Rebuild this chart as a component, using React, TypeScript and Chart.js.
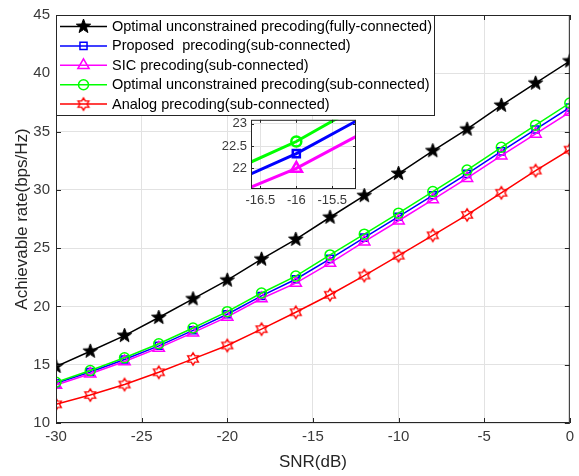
import React, { useEffect, useRef } from "react";
import { Chart, registerables } from "chart.js";
import { drawPoint } from "chart.js/helpers";

Chart.register(...registerables);

// ---------------- data ----------------
const snr = [-30, -28, -26, -24, -22, -20, -18, -16, -14, -12, -10, -8, -6, -4, -2, 0];
const fullyOptimal = [14.85, 16.15, 17.5, 19.05, 20.65, 22.25, 24.05, 25.75, 27.65, 29.5, 31.4, 33.35, 35.2, 37.25, 39.15, 41.05];
const proposed = [13.4, 14.38, 15.45, 16.62, 17.95, 19.33, 20.9, 22.33, 24.08, 25.9, 27.7, 29.53, 31.37, 33.3, 35.18, 37.07];
const sic = [13.25, 14.22, 15.28, 16.44, 17.75, 19.1, 20.68, 22.0, 23.72, 25.55, 27.35, 29.17, 31.0, 32.93, 34.8, 36.67];
const subOptimal = [13.5, 14.5, 15.6, 16.8, 18.15, 19.55, 21.15, 22.6, 24.42, 26.2, 28.0, 29.85, 31.7, 33.65, 35.55, 37.45];
const analog = [11.6, 12.4, 13.3, 14.35, 15.5, 16.65, 18.05, 19.5, 21.0, 22.65, 24.35, 26.1, 27.85, 29.75, 31.65, 33.45];

const xTicks = [-30, -25, -20, -15, -10, -5, 0];
const yTicks = [10, 15, 20, 25, 30, 35, 40, 45];
const insetXTicks = [-16.5, -16, -15.5];
const insetYTicks = [22, 22.5, 23];

const legendLabels = [
  "Optimal unconstrained precoding(fully-connected)",
  "Proposed  precoding(sub-connected)",
  "SIC precoding(sub-connected)",
  "Optimal unconstrained precoding(sub-connected)",
  "Analog precoding(sub-connected)",
];
const xTitle = "SNR(dB)";
const yTitle = "Achievable rate(bps/Hz)";

// ---------------- styles ----------------
const FONT = '"Liberation Sans", Arial, Helvetica, sans-serif';
const COLORS = ["#000000", "#0000ff", "#ff00ff", "#00ff00", "#ff0000"];
const AXIS = "#262626";
const GRID = "#e2e2e2";
const TICK = "#3a3a3a";

function makeStar(n: number, outer: number, inner: number, fill: string | null, stroke: string, lw: number) {
  const size = Math.ceil(2 * (outer + lw) + 2);
  const c = document.createElement("canvas");
  c.width = size;
  c.height = size;
  const g = c.getContext("2d")!;
  const cx = size / 2, cy = size / 2;
  g.beginPath();
  for (let i = 0; i < 2 * n; i++) {
    const r = i % 2 === 0 ? outer : inner;
    const a = -Math.PI / 2 + (i * Math.PI) / n;
    const px = cx + r * Math.cos(a), py = cy + r * Math.sin(a);
    if (i === 0) g.moveTo(px, py);
    else g.lineTo(px, py);
  }
  g.closePath();
  if (fill) {
    g.fillStyle = fill;
    g.fill();
  }
  g.strokeStyle = stroke;
  g.lineWidth = lw;
  g.lineJoin = "miter";
  g.stroke();
  return c;
}

function toPts(ys: number[]) {
  return snr.map((x, i) => ({ x, y: ys[i] }));
}

export default function App() {
  const mainRef = useRef<HTMLCanvasElement>(null);
  const insetRef = useRef<HTMLCanvasElement>(null);

  useEffect(() => {
    const pentagram = makeStar(5, 7.5, 3.1, "#000000", "#000000", 1);
    const hexagram = makeStar(6, 6.2, 3.6, null, "#ff0000", 1.4);
    const styles: any[] = [pentagram, "rect", "triangle", "circle", hexagram];
    const radii = [7, 5, 6.5, 5, 6.5];
    const series = [fullyOptimal, proposed, sic, subOptimal, analog];
    const orders = [5, 4, 3, 2, 1];

    const mainDatasets = series.map((s, i) => ({
      label: legendLabels[i],
      data: toPts(s),
      borderColor: COLORS[i],
      backgroundColor: COLORS[i],
      borderWidth: 1.5,
      pointStyle: styles[i],
      pointRadius: radii[i],
      pointBorderColor: COLORS[i],
      pointBackgroundColor: "rgba(0,0,0,0)",
      pointBorderWidth: 1.5,
      tension: 0,
      order: orders[i],
      clip: 0 as any,
    }));

    const mainDecor = {
      id: "mainDecor",
      beforeDraw(chart: any) {
        const { ctx, width, height } = chart;
        ctx.save();
        ctx.fillStyle = "#ffffff";
        ctx.fillRect(0, 0, width, height);
        ctx.restore();
      },
      afterDraw(chart: any) {
        const { ctx, chartArea: a, scales } = chart;
        ctx.save();
        ctx.strokeStyle = AXIS;
        ctx.lineWidth = 1;
        ctx.strokeRect(a.left + 0.5, a.top + 0.5, a.right - a.left - 1, a.bottom - a.top - 1);
        ctx.beginPath();
        xTicks.forEach((v) => {
          const px = Math.round(scales.x.getPixelForValue(v)) + 0.5;
          ctx.moveTo(px, a.bottom);
          ctx.lineTo(px, a.bottom - 5);
          ctx.moveTo(px, a.top);
          ctx.lineTo(px, a.top + 5);
        });
        yTicks.forEach((v) => {
          const py = Math.round(scales.y.getPixelForValue(v)) + 0.5;
          ctx.moveTo(a.left, py);
          ctx.lineTo(a.left + 5, py);
          ctx.moveTo(a.right, py);
          ctx.lineTo(a.right - 5, py);
        });
        ctx.stroke();

        // legend
        const lx = a.left, ly = a.top;
        const lw = 378, lh = 100;
        ctx.fillStyle = "#ffffff";
        ctx.fillRect(lx, ly, lw, lh);
        ctx.strokeStyle = AXIS;
        ctx.lineWidth = 1;
        ctx.strokeRect(lx + 0.5, ly + 0.5, lw, lh);
        ctx.font = `14.5px ${FONT}`;
        ctx.textBaseline = "middle";
        ctx.textAlign = "left";
        legendLabels.forEach((lab, i) => {
          const ry = ly + 11.5 + i * 19.4;
          ctx.strokeStyle = COLORS[i];
          ctx.lineWidth = 1.5;
          ctx.beginPath();
          ctx.moveTo(lx + 4, ry);
          ctx.lineTo(lx + 51, ry);
          ctx.stroke();
          ctx.fillStyle = "rgba(0,0,0,0)";
          ctx.strokeStyle = COLORS[i];
          ctx.lineWidth = 1.5;
          drawPoint(ctx, { pointStyle: styles[i], radius: radii[i], rotation: 0, borderWidth: 1.5 } as any, lx + 27.5, ry);
          ctx.fillStyle = "#000000";
          ctx.fillText(lab, lx + 56, ry + 0.5);
        });

        // axis titles
        ctx.fillStyle = AXIS;
        ctx.font = `17px ${FONT}`;
        ctx.textAlign = "center";
        ctx.textBaseline = "middle";
        ctx.fillText(xTitle, (a.left + a.right) / 2, 462);
        ctx.save();
        ctx.translate(22, (a.top + a.bottom) / 2);
        ctx.rotate(-Math.PI / 2);
        ctx.fillText(yTitle, 0, 0);
        ctx.restore();
        ctx.restore();
      },
    };

    const fmt = (v: any) => String(v);

    const main = new Chart(mainRef.current!, {
      type: "line",
      data: { datasets: mainDatasets as any },
      options: {
        animation: false,
        responsive: false,
        devicePixelRatio: 1,
        layout: { padding: { top: 12, right: 3, left: 0, bottom: 0 } },
        plugins: { legend: { display: false }, tooltip: { enabled: false } },
        scales: {
          x: {
            type: "linear",
            min: -30,
            max: 0,
            afterBuildTicks: (s: any) => {
              s.ticks = xTicks.map((v) => ({ value: v }));
            },
            afterFit: (s: any) => {
              s.height = 53;
            },
            grid: { color: GRID, drawTicks: false },
            border: { display: false },
            ticks: { color: TICK, font: { size: 15, family: FONT }, padding: 5, maxRotation: 0, autoSkip: false, callback: fmt },
          },
          y: {
            type: "linear",
            min: 10,
            max: 45,
            afterBuildTicks: (s: any) => {
              s.ticks = yTicks.map((v) => ({ value: v }));
            },
            afterFit: (s: any) => {
              s.width = 56;
            },
            grid: { color: GRID, drawTicks: false },
            border: { display: false },
            ticks: { color: TICK, font: { size: 15, family: FONT }, padding: 6, autoSkip: false, callback: fmt },
          },
        },
      },
      plugins: [mainDecor],
    });

    // ---------------- inset ----------------
    const insetIdx = [1, 2, 3];
    const insetDatasets = insetIdx.map((i) => ({
      data: toPts(series[i]),
      borderColor: COLORS[i],
      backgroundColor: COLORS[i],
      borderWidth: 3,
      pointStyle: styles[i],
      pointRadius: radii[i],
      pointBorderColor: COLORS[i],
      pointBackgroundColor: "rgba(0,0,0,0)",
      pointBorderWidth: 2.5,
      tension: 0,
      order: orders[i],
      clip: 0 as any,
    }));

    const insetDecor = {
      id: "insetDecor",
      beforeDraw(chart: any) {
        const { ctx, chartArea: a } = chart;
        ctx.save();
        ctx.fillStyle = "#ffffff";
        ctx.fillRect(a.left, a.top, a.right - a.left, a.bottom - a.top);
        ctx.restore();
      },
      afterDraw(chart: any) {
        const { ctx, chartArea: a, scales } = chart;
        ctx.save();
        ctx.strokeStyle = AXIS;
        ctx.lineWidth = 1;
        ctx.strokeRect(a.left + 0.5, a.top + 0.5, a.right - a.left - 1, a.bottom - a.top - 1);
        ctx.beginPath();
        insetXTicks.forEach((v) => {
          const px = Math.round(scales.x.getPixelForValue(v)) + 0.5;
          ctx.moveTo(px, a.bottom);
          ctx.lineTo(px, a.bottom - 3);
          ctx.moveTo(px, a.top);
          ctx.lineTo(px, a.top + 3);
        });
        insetYTicks.forEach((v) => {
          const py = Math.round(scales.y.getPixelForValue(v)) + 0.5;
          ctx.moveTo(a.left, py);
          ctx.lineTo(a.left + 3, py);
          ctx.moveTo(a.right, py);
          ctx.lineTo(a.right - 3, py);
        });
        ctx.stroke();
        ctx.restore();
      },
    };

    const inset = new Chart(insetRef.current!, {
      type: "line",
      data: { datasets: insetDatasets as any },
      options: {
        animation: false,
        responsive: false,
        devicePixelRatio: 1,
        layout: { padding: { top: 8, right: 7, left: 0, bottom: 0 } },
        plugins: { legend: { display: false }, tooltip: { enabled: false } },
        scales: {
          x: {
            type: "linear",
            min: -16.63,
            max: -15.17,
            afterBuildTicks: (s: any) => {
              s.ticks = insetXTicks.map((v) => ({ value: v }));
            },
            afterFit: (s: any) => {
              s.height = 21;
            },
            grid: { color: GRID, drawTicks: false },
            border: { display: false },
            ticks: { color: TICK, font: { size: 13, family: FONT }, padding: 4, maxRotation: 0, autoSkip: false, callback: fmt },
          },
          y: {
            type: "linear",
            min: 21.54,
            max: 23.085,
            afterBuildTicks: (s: any) => {
              s.ticks = insetYTicks.map((v) => ({ value: v }));
            },
            afterFit: (s: any) => {
              s.width = 36;
            },
            grid: { color: GRID, drawTicks: false },
            border: { display: false },
            ticks: { color: TICK, font: { size: 13, family: FONT }, padding: 4, autoSkip: false, callback: fmt },
          },
        },
      },
      plugins: [insetDecor],
    });

    return () => {
      main.destroy();
      inset.destroy();
    };
  }, []);

  return (
    <div style={{ position: "absolute", left: 0, top: 0, width: 579, height: 476, background: "#fff" }}>
      <canvas ref={mainRef} width={579} height={476} style={{ position: "absolute", left: 0, top: 0, width: 579, height: 476 }} />
      <canvas ref={insetRef} width={150} height={102} style={{ position: "absolute", left: 215, top: 108, width: 150, height: 102 }} />
    </div>
  );
}
